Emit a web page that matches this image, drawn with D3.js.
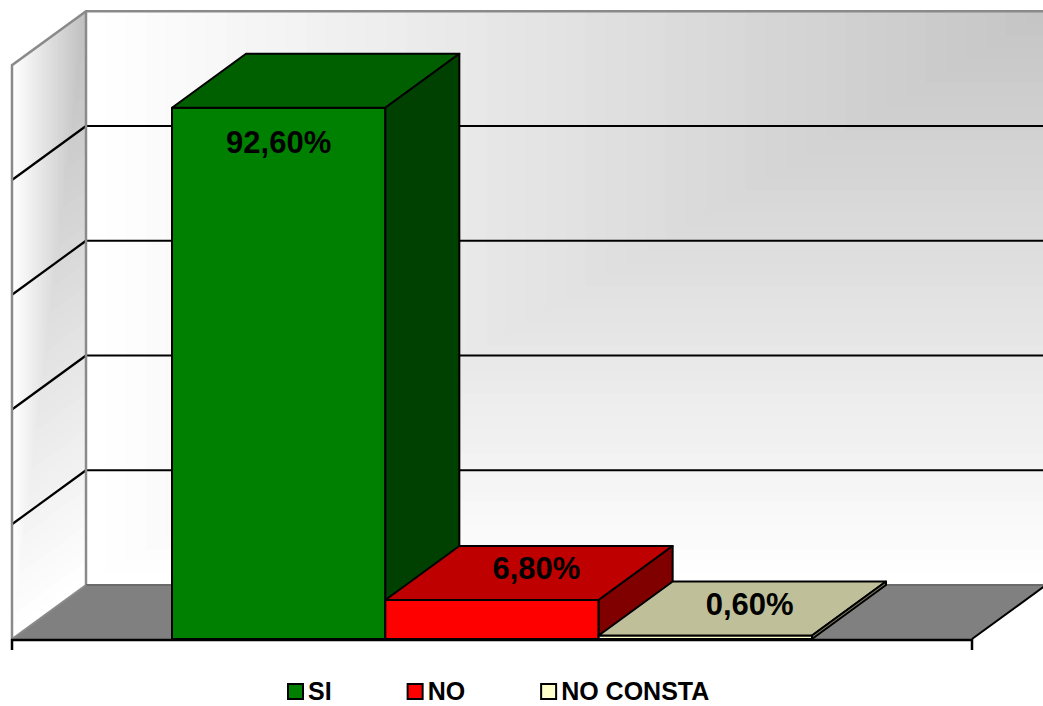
<!DOCTYPE html>
<html>
<head>
<meta charset="utf-8">
<script src="https://cdn.jsdelivr.net/npm/d3@7"></script>
<style>
  html, body { margin: 0; padding: 0; background: #ffffff; }
  svg { display: block; }
  text { font-family: "Liberation Sans", Arial, sans-serif; font-weight: bold; }
</style>
</head>
<body>
<svg id="chart" width="1043" height="706"></svg>
<script>
// Series (one per answer) and their values, in percent
const categories = ["SI", "NO", "NO CONSTA"];
const values = [92.6, 6.8, 0.6];
const yTicks = [0, 20, 40, 60, 80, 100];
const frontColors = ["#008000", "#ff0000", "#ffffcc"];

const svg = d3.select("#chart");

// 3D depth offset of the plot box
const DX = 74, DY = -54;

// Front-plane scales
const x = d3.scaleBand().domain(categories).range([12, 972]).paddingInner(0).paddingOuter(0.75);
const y = d3.scaleLinear().domain([0, 100]).range([639, 65.25]);

const esLocale = d3.formatLocale({ decimal: ",", thousands: ".", grouping: [3], currency: ["", " €"], percent: "%" });
const fmt = esLocale.format(".2%");

const shade = (c, k) => { const r = d3.rgb(c); return d3.rgb(r.r * k, r.g * k, r.b * k).formatHex(); };
const pts = a => a.map(p => p.join(",")).join(" ");

const x0 = x.range()[0], x1 = x.range()[1];
const yb = y(0), yt = y(100);

// ---- back wall with corner-shaded banding ----
const bwL = x0 + DX, bwR = x1 + DX, bwT = yt + DY, bwB = yb + DY;
const N = 48;
const backShade = d3.interpolateRgb("#ffffff", "#c4c4c4");
const gBack = svg.append("g");
for (let i = 0; i < N; i++) {
  const t = i / N;
  gBack.append("rect")
    .attr("x", bwL + t * (bwR - bwL))
    .attr("y", bwT)
    .attr("width", (1 - t) * (bwR - bwL) + 1)
    .attr("height", (1 - t) * (bwB - bwT))
    .attr("fill", backShade(t));
}

// ---- side wall ----
const sideShade = d3.interpolateRgb("#ffffff", "#bebebe");
const sidePt = (s, v) => [x0 + s * DX, yb + s * DY - v * (yb - yt)];
const gSide = svg.append("g");
for (let i = 0; i < N; i++) {
  const t = i / N;
  gSide.append("polygon")
    .attr("points", pts([sidePt(t, t), sidePt(1, t), sidePt(1, 1), sidePt(t, 1)]))
    .attr("fill", sideShade(t));
}

// ---- gridlines (back wall + side wall) ----
const gGrid = svg.append("g");
yTicks.filter(v => v > 0 && v < 100).forEach(v => {
  gGrid.append("line")
    .attr("x1", bwL).attr("x2", bwR + 5)
    .attr("y1", y(v) + DY).attr("y2", y(v) + DY)
    .attr("stroke", "#000").attr("stroke-width", 2.2);
  gGrid.append("line")
    .attr("x1", x0).attr("y1", y(v))
    .attr("x2", x0 + DX).attr("y2", y(v) + DY)
    .attr("stroke", "#000").attr("stroke-width", 2.2);
});

// wall outlines
const wallLine = "#8a8a8a";
svg.append("polyline")
  .attr("points", pts([[x0, yb], [x0, yt], [bwL, bwT], [bwR + 5, bwT]]))
  .attr("fill", "none").attr("stroke", wallLine).attr("stroke-width", 2.5);
svg.append("line")
  .attr("x1", bwL).attr("y1", bwT).attr("x2", bwL).attr("y2", bwB)
  .attr("stroke", wallLine).attr("stroke-width", 2.5);

// ---- floor ----
svg.append("polygon")
  .attr("points", pts([[x0, yb], [bwL, bwB], [bwR, bwB], [x1, yb]]))
  .attr("fill", "#808080");
svg.append("line")
  .attr("x1", bwL).attr("y1", bwB).attr("x2", bwR + 5).attr("y2", bwB)
  .attr("stroke", "#6a6a6a").attr("stroke-width", 2);
svg.append("line")
  .attr("x1", x0).attr("y1", yb).attr("x2", bwL).attr("y2", bwB)
  .attr("stroke", wallLine).attr("stroke-width", 2);
svg.append("line")
  .attr("x1", x1).attr("y1", yb).attr("x2", bwR).attr("y2", bwB)
  .attr("stroke", "#000").attr("stroke-width", 2);

// ---- bars ----
const gBars = svg.append("g");
categories.forEach((c, i) => {
  const xl = x(c), xr = x(c) + x.bandwidth();
  const ytop = y(values[i]);
  const g = gBars.append("g");
  const face = (p, fill) => g.append("polygon").attr("points", pts(p)).attr("fill", fill)
    .attr("stroke", "#000").attr("stroke-width", 2).attr("stroke-linejoin", "round");
  face([[xl, yb], [xl, ytop], [xr, ytop], [xr, yb]], frontColors[i]);
  face([[xl, ytop], [xl + DX, ytop + DY], [xr + DX, ytop + DY], [xr, ytop]], shade(frontColors[i], 0.75));
  face([[xr, yb], [xr, ytop], [xr + DX, ytop + DY], [xr + DX, yb + DY]], shade(frontColors[i], 0.5));
});

// ---- value labels ----
categories.forEach((c, i) => {
  const xc = x(c) + x.bandwidth() / 2;
  const ytop = y(values[i]);
  const tall = (yb - ytop) > 100;
  svg.append("text")
    .attr("x", tall ? xc : xc + DX * 0.6)
    .attr("y", tall ? ytop + 45 : ytop - 21)
    .attr("text-anchor", "middle")
    .attr("font-size", 31)
    .attr("fill", "#000")
    .text(fmt(values[i] / 100));
});

// ---- category axis ----
svg.append("line")
  .attr("x1", x0 - 1).attr("x2", x1 + 1).attr("y1", yb + 1).attr("y2", yb + 1)
  .attr("stroke", "#000").attr("stroke-width", 2.5);
[x0, x1].forEach(px => {
  svg.append("line")
    .attr("x1", px).attr("x2", px).attr("y1", yb).attr("y2", yb + 11)
    .attr("stroke", "#000").attr("stroke-width", 2.5);
});

// ---- legend ----
const gLeg = svg.append("g");
let lx = 288;
const ly = 692;
categories.forEach((c, i) => {
  gLeg.append("rect")
    .attr("x", lx).attr("y", ly - 8).attr("width", 15).attr("height", 15)
    .attr("fill", frontColors[i]).attr("stroke", "#000").attr("stroke-width", 2);
  const t = gLeg.append("text")
    .attr("x", lx + 20).attr("y", ly + 8)
    .attr("font-size", 25).attr("fill", "#000")
    .text(c);
  lx += 20 + t.node().getComputedTextLength() + 76;
});
</script>
</body>
</html>
